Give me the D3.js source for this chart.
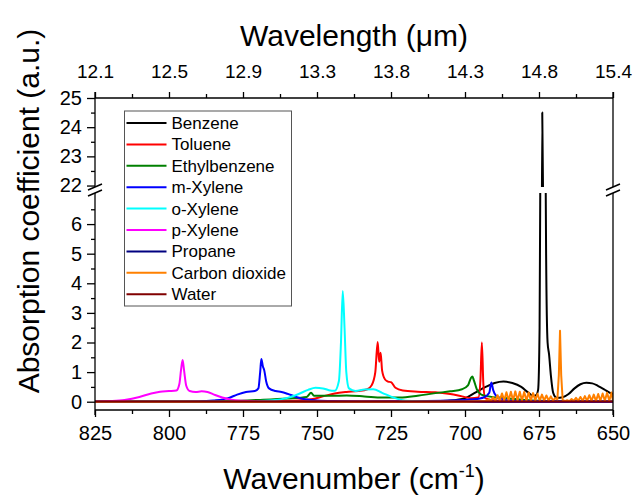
<!DOCTYPE html>
<html>
<head>
<meta charset="utf-8">
<script src="https://cdn.jsdelivr.net/npm/d3@7"></script>
<style>
  body { margin: 0; background: #fff; }
  svg { display: block; }
</style>
</head>
<body>
<svg id="chart" width="639" height="496"></svg>
<script>
// Absorption spectra, wavenumber (cm-1) vs absorption (a.u.)

var seriesNames = ['Benzene', 'Toluene', 'Ethylbenzene', 'm-Xylene', 'o-Xylene',
                   'p-Xylene', 'Propane', 'Carbon dioxide', 'Water'];
var seriesColors = ['#000000', '#FF0000', '#008000', '#0000FF', '#00FFFF',
                    '#FF00FF', '#000080', '#FF8000', '#800000'];

var benzene = [[825,0],[760,0],[720,0.01],[710,0.02],[705,0.04],[700,0.12],[697,0.28],[693,0.5],
  [690,0.63],[687,0.68],[684,0.63],[681,0.5],[678.5,0.3],[677,0.2],[676,0.22],[675.3,0.4],
  [674.8,2.5],[674.5,9],[674.2,16],[673.9,24.5],[673.5,20],[673.0,12],[672.6,5],[672.1,2],
  [671.6,1.6],[671,0.9],
  [670.2,0.3],[669,0.13],[667,0.15],[665,0.26],[663,0.45],[661,0.59],[659,0.64],[657,0.62],
  [655,0.53],[653,0.42],[651,0.3],[650,0.25]];

var toluene = [[825,0],[770,0],[760,0.02],[752,0.08],[748,0.18],[744,0.28],[740,0.33],[736,0.36],
  [733,0.42],[731.5,0.56],[730.3,1.0],[729.5,2.02],[729,1.35],[728.5,1.65],[728,1.05],[727,0.75],
  [726,0.68],[725,0.66],[723.5,0.47],[721,0.38],[716,0.34],[710,0.32],[705,0.26],[701,0.18],
  [698,0.12],[695.5,0.14],[694.8,0.7],[694.3,2.0],[693.8,0.6],[693.2,0.12],[690,0.04],[680,0.02],
  [650,0.01]];

var ethylbenzene = [[825,0],[790,0],[780,0.02],[770,0.06],[760,0.11],[753.5,0.16],[752,0.3],
  [751,0.2],[745,0.2],[740,0.21],[734,0.18],[728,0.14],[722,0.14],[716,0.2],[710,0.29],[705,0.35],
  [701,0.42],[699,0.55],[698,0.8],[697.5,0.85],[697,0.72],[696,0.42],[694.5,0.24],[692,0.18],
  [688,0.13],[684,0.1],[680,0.06],[675,0.03],[660,0.01],[650,0]];

var mXylene = [[825,0],[800,0],[790,0.01],[785,0.04],[780,0.12],[777,0.24],[774,0.33],[771,0.36],
  [769.8,0.45],[769.2,1.0],[768.8,1.44],[768.3,1.2],[767.8,1.05],[767.2,0.7],[766.2,0.45],
  [764,0.36],[762,0.33],[760,0.27],[757,0.16],[754,0.08],[750,0.04],[745,0.02],[735,0.01],
  [720,0.02],[705,0.04],[697,0.08],[693.5,0.15],[691.8,0.3],[691.1,0.65],[690.5,0.4],
  [689.5,0.2],[687,0.08],[684,0.03],[675,0.01],[650,0]];

var oXylene = [[825,0],[790,0],[775,0.01],[765,0.05],[760,0.13],[756,0.27],[753,0.4],[750.5,0.47],
  [748,0.45],[746,0.39],[744,0.37],[742.6,0.7],[741.9,2.0],[741.3,3.74],[740.7,2.5],[740.1,1.0],
  [739.2,0.45],[737,0.36],[734,0.41],[731,0.42],[728,0.3],[725,0.17],[722,0.07],[718,0.02],
  [705,0],[650,0]];

var pXylene = [[825,0],[820,0.02],[815,0.06],[810,0.16],[806,0.28],[803,0.34],[800,0.36],
  [797.5,0.38],[796.5,0.6],[795.9,1.1],[795.4,1.41],[794.9,1.05],[794.2,0.55],[793,0.36],
  [791,0.33],[789,0.35],[787,0.33],[785,0.25],[782,0.14],[779,0.07],[775,0.03],[770,0.01],
  [760,0],[650,0]];

var propane = [[825,0],[737,0],[650,0]];

var co2 = [[825,0],[700,0],[693,0.02],
  [692,0.08],[691.25,0.03],[690.5,0.15],[689.75,0.03],[689,0.22],[688.25,0.04],[687.5,0.28],
  [686.75,0.04],[686,0.32],[685.25,0.04],[684.5,0.34],[683.75,0.04],[683,0.35],[682.25,0.04],
  [681.5,0.34],[680.75,0.04],[680,0.33],[679.25,0.04],[678.5,0.31],[677.75,0.04],[677,0.29],
  [676.25,0.04],[675.5,0.27],[674.75,0.04],[674,0.24],[673.25,0.04],[672.5,0.21],[671.75,0.04],
  [671,0.18],[670.25,0.04],[669.5,0.12],[668.8,0.08],[668.3,0.9],[667.9,2.4],[667.5,0.9],
  [667,0.06],[666.2,0.02],
  [665.5,0.05],[664.75,0.02],[664,0.09],[663.25,0.03],[662.5,0.13],[661.75,0.03],[661,0.16],
  [660.25,0.03],[659.5,0.19],[658.75,0.03],[658,0.22],[657.25,0.03],[656.5,0.24],[655.75,0.03],
  [655,0.26],[654.25,0.03],[653.5,0.28],[652.75,0.03],[652,0.3],[651.25,0.03],[650.5,0.31],
  [650,0.03]];

var water = [[825,0.005],[650,0.005]];

var seriesData = [benzene, toluene, ethylbenzene, mXylene, oXylene, pXylene, propane, co2, water];

var xTicks = [825, 800, 775, 750, 725, 700, 675, 650];
var xMinorTicks = [812.5, 787.5, 762.5, 737.5, 712.5, 687.5, 662.5];
var topTickLabels = ['12.1', '12.5', '12.9', '13.3', '13.8', '14.3', '14.8', '15.4'];
var yLowTicks = [0, 1, 2, 3, 4, 5, 6];
var yLowMinor = [0.5, 1.5, 2.5, 3.5, 4.5, 5.5, 6.5];
var yHighTicks = [22, 23, 24, 25];
var yHighMinor = [22.5, 23.5, 24.5];

var font = 'Arial, "Liberation Sans", sans-serif';

var plotLeft = 95, plotRight = 613, plotTop = 98, plotBottom = 410;
var breakLow = 193, breakHigh = 187;

var svg = d3.select('#chart');

var x = d3.scaleLinear().domain([825, 650]).range([plotLeft, plotRight]);
var yLow = d3.scaleLinear().domain([-0.28, 7.05]).range([plotBottom, breakLow]);
var yHigh = d3.scaleLinear().domain([21.95, 25]).range([breakHigh, plotTop]);

// clip regions for the two panels
var defs = svg.append('defs');
defs.append('clipPath').attr('id', 'clipLow').append('rect')
    .attr('x', plotLeft).attr('y', breakLow)
    .attr('width', plotRight - plotLeft).attr('height', plotBottom - breakLow);
defs.append('clipPath').attr('id', 'clipHigh').append('rect')
    .attr('x', plotLeft).attr('y', plotTop)
    .attr('width', plotRight - plotLeft).attr('height', breakHigh - plotTop);

function drawPanel(yScale, clipId) {
    var g = svg.append('g').attr('clip-path', 'url(#' + clipId + ')');
    seriesData.forEach(function(data, i) {
        var line = d3.line()
            .x(function(d) { return x(d[0]); })
            .y(function(d) { return yScale(d[1]); })
            .curve(seriesNames[i] === 'Carbon dioxide' ? d3.curveLinear : d3.curveMonotoneX);
        g.append('path')
            .datum(data)
            .attr('fill', 'none')
            .attr('stroke', seriesColors[i])
            .attr('stroke-width', 2)
            .attr('stroke-linejoin', 'round')
            .attr('d', line);
    });
}
drawPanel(yLow, 'clipLow');
drawPanel(yHigh, 'clipHigh');

// axes
function styleAxis(g) {
    g.selectAll('.domain').remove();
    g.selectAll('.tick line').attr('stroke', '#000').attr('stroke-width', 1.3);
    g.selectAll('.tick text').attr('fill', '#000').attr('font-family', font);
}

var bottomAxis = svg.append('g').attr('transform', 'translate(0,' + plotBottom + ')')
    .call(d3.axisBottom(x).tickValues(xTicks).tickSize(7).tickPadding(9).tickFormat(d3.format('d')));
styleAxis(bottomAxis);
bottomAxis.selectAll('.tick text').attr('font-size', 20);
svg.append('g').attr('transform', 'translate(0,' + plotBottom + ')')
    .call(d3.axisBottom(x).tickValues(xMinorTicks).tickSize(4).tickFormat(''))
    .call(styleAxis);

var topAxis = svg.append('g').attr('transform', 'translate(0,' + plotTop + ')')
    .call(d3.axisTop(x).tickValues(xTicks).tickSize(6).tickPadding(14)
        .tickFormat(function(d, i) { return topTickLabels[i]; }));
styleAxis(topAxis);
topAxis.selectAll('.tick text').attr('font-size', 19);
svg.append('g').attr('transform', 'translate(0,' + plotTop + ')')
    .call(d3.axisTop(x).tickValues(xMinorTicks).tickSize(4).tickFormat(''))
    .call(styleAxis);

var leftLow = svg.append('g').attr('transform', 'translate(' + plotLeft + ',0)')
    .call(d3.axisLeft(yLow).tickValues(yLowTicks).tickSize(8).tickPadding(5).tickFormat(d3.format('d')));
styleAxis(leftLow);
leftLow.selectAll('.tick text').attr('font-size', 20);
svg.append('g').attr('transform', 'translate(' + plotLeft + ',0)')
    .call(d3.axisLeft(yLow).tickValues(yLowMinor).tickSize(4).tickFormat(''))
    .call(styleAxis);

var leftHigh = svg.append('g').attr('transform', 'translate(' + plotLeft + ',0)')
    .call(d3.axisLeft(yHigh).tickValues(yHighTicks).tickSize(8).tickPadding(5).tickFormat(d3.format('d')));
styleAxis(leftHigh);
leftHigh.selectAll('.tick text').attr('font-size', 20);
svg.append('g').attr('transform', 'translate(' + plotLeft + ',0)')
    .call(d3.axisLeft(yHigh).tickValues(yHighMinor).tickSize(4).tickFormat(''))
    .call(styleAxis);

// frame lines with the axis break
var frame = svg.append('g').attr('stroke', '#000').attr('stroke-width', 1.3).attr('fill', 'none');
frame.append('line').attr('x1', plotLeft).attr('x2', plotRight).attr('y1', plotBottom).attr('y2', plotBottom);
frame.append('line').attr('x1', plotLeft).attr('x2', plotRight).attr('y1', plotTop).attr('y2', plotTop);
[plotLeft, plotRight].forEach(function(xx) {
    frame.append('line').attr('x1', xx).attr('x2', xx).attr('y1', plotTop - 6).attr('y2', breakHigh);
    frame.append('line').attr('x1', xx).attr('x2', xx).attr('y1', breakLow).attr('y2', plotBottom + 5);
    [breakHigh, breakLow].forEach(function(yb) {
        frame.append('line')
            .attr('x1', xx - 7).attr('y1', yb + 3)
            .attr('x2', xx + 7).attr('y2', yb - 3)
            .attr('stroke-width', 1.5);
    });
});

// titles
svg.append('text')
    .attr('x', (plotLeft + plotRight) / 2).attr('y', 46)
    .attr('text-anchor', 'middle')
    .attr('font-family', font).attr('font-size', 30)
    .text('Wavelength (\u03BCm)');

var xTitle = svg.append('text')
    .attr('x', (plotLeft + plotRight) / 2).attr('y', 489)
    .attr('text-anchor', 'middle')
    .attr('font-family', font).attr('font-size', 30);
xTitle.append('tspan').text('Wavenumber (cm');
xTitle.append('tspan').attr('font-size', 18).attr('dy', -12).text('-1');
xTitle.append('tspan').attr('dy', 12).text(')');

svg.append('text')
    .attr('transform', 'translate(39,211) rotate(-90)')
    .attr('text-anchor', 'middle')
    .attr('font-family', font).attr('font-size', 30)
    .text('Absorption coefficient (a.u.)');

// legend
var legend = svg.append('g').attr('transform', 'translate(124.5,111)');
legend.append('rect')
    .attr('width', 167).attr('height', 195)
    .attr('fill', '#fff').attr('stroke', '#555').attr('stroke-width', 1);
seriesNames.forEach(function(name, i) {
    var ly = 12 + i * 21.4;
    legend.append('line')
        .attr('x1', 2).attr('x2', 42).attr('y1', ly).attr('y2', ly)
        .attr('stroke', seriesColors[i]).attr('stroke-width', 2);
    legend.append('text')
        .attr('x', 47).attr('y', ly + 6)
        .attr('font-family', font).attr('font-size', 17)
        .attr('fill', '#000')
        .text(name);
});
</script>
</body>
</html>
